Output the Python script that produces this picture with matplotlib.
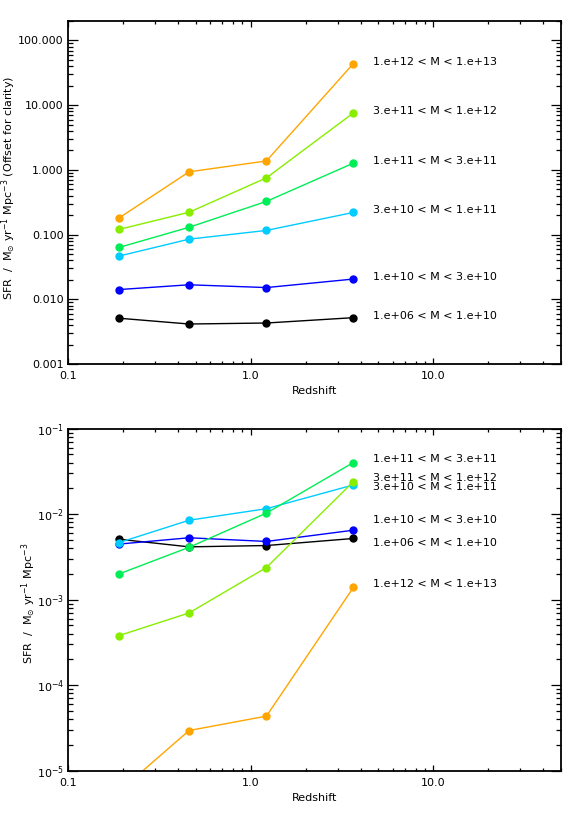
import numpy as np
import matplotlib
matplotlib.use("Agg")
import matplotlib.pyplot as plt
from matplotlib.ticker import LogLocator, FuncFormatter, NullFormatter

plt.rcParams['font.family'] = ['DejaVu Sans']
plt.rcParams['mathtext.fontset'] = 'dejavusans'

# ---- data ----
redshift = [0.19, 0.46, 1.22, 3.65]

bin_labels = ["1.e+06 < M < 1.e+10",
              "1.e+10 < M < 3.e+10",
              "3.e+10 < M < 1.e+11",
              "1.e+11 < M < 3.e+11",
              "3.e+11 < M < 1.e+12",
              "1.e+12 < M < 1.e+13"]
bin_colors = ["#000000", "#0000FF", "#00CCFF", "#00EE55", "#88EE00", "#FFA500"]

sfr_m06_10 = [0.0051, 0.00415, 0.0043, 0.0052]
sfr_10_3e10 = [0.00447, 0.0053, 0.0048, 0.0065]
sfr_3e10_11 = [0.00465, 0.0085, 0.0116, 0.022]
sfr_11_3e11 = [0.0020, 0.0041, 0.0103, 0.0402]
sfr_3e11_12 = [0.00038, 0.0007, 0.00238, 0.0240]
sfr_12_13 = [5.7e-6, 2.95e-5, 4.35e-5, 0.00139]
sfr_bins = [sfr_m06_10, sfr_10_3e10, sfr_3e10_11, sfr_11_3e11, sfr_3e11_12, sfr_12_13]

# display offsets (top panel), as powers of ten
offset_exp = [0.0, 0.5, 1.0, 1.5, 2.5, 4.5]

# label y positions in the bottom panel
bottom_label_y = [0.00457, 0.00855, 0.0207, 0.0443, 0.0263, 0.00153]

# ---- figure ----
fig = plt.figure(figsize=(5.81, 8.14), dpi=100)
W, H = 581.0, 814.0
def axrect(l, t, r, b):
    return [l / W, 1 - b / H, (r - l) / W, (b - t) / H]

ax1 = fig.add_axes(axrect(68, 21, 561, 364))
ax2 = fig.add_axes(axrect(68, 428.7, 561, 770.7))

FS = 8

def style(ax):
    ax.set_xscale('log')
    ax.set_yscale('log')
    ax.set_xlim(0.1, 50)
    ax.xaxis.set_major_locator(LogLocator(base=10, numticks=10))
    ax.xaxis.set_minor_locator(LogLocator(base=10, subs=np.arange(2, 10), numticks=20))
    ax.xaxis.set_major_formatter(FuncFormatter(lambda v, p: f"{v:.1f}"))
    ax.xaxis.set_minor_formatter(NullFormatter())
    ax.yaxis.set_minor_locator(LogLocator(base=10, subs=np.arange(2, 10), numticks=20))
    ax.yaxis.set_minor_formatter(NullFormatter())
    ax.tick_params(axis='both', which='both', direction='in', top=True, right=True,
                   labelsize=FS, width=0.9, color='black')
    ax.tick_params(axis='x', which='major', length=4.5, pad=5)
    ax.tick_params(axis='x', which='minor', length=2.3)
    ax.tick_params(axis='y', which='major', length=7, pad=3)
    ax.tick_params(axis='y', which='minor', length=3.5)
    for s in ax.spines.values():
        s.set_linewidth(1.3)
    ax.set_xlabel("Redshift", fontsize=FS, labelpad=4)

style(ax1)
style(ax2)

ax1.set_ylim(0.001, 200)
ax1.yaxis.set_major_locator(LogLocator(base=10, numticks=10))
ax1.yaxis.set_major_formatter(FuncFormatter(lambda v, p: f"{v:.3f}"))

ax2.set_ylim(1e-5, 1e-1)
ax2.yaxis.set_major_locator(LogLocator(base=10, numticks=10))

for vals, oe, col, lab, ly in zip(sfr_bins, offset_exp, bin_colors, bin_labels, bottom_label_y):
    vals = np.array(vals)
    top_vals = vals * 10 ** oe
    ax1.plot(redshift, top_vals, '-o', color=col, lw=1.0, ms=5.0)
    ax1.annotate(lab, xy=(redshift[-1], top_vals[-1]), xytext=(20, 2),
                 textcoords='offset pixels', va='center', ha='left', fontsize=FS)
    ax2.plot(redshift, vals, '-o', color=col, lw=1.0, ms=5.0)
    ax2.annotate(lab, xy=(redshift[-1], ly), xytext=(20, 0),
                 textcoords='offset pixels', va='center', ha='left', fontsize=FS)

ax1.set_ylabel(r"SFR  /  M$_{\odot}$ yr$^{-1}$ Mpc$^{-3}$ (Offset for clarity)", fontsize=FS)
ax1.yaxis.set_label_coords(-0.101, 0.515)
ax2.set_ylabel(r"SFR  /  M$_{\odot}$ yr$^{-1}$ Mpc$^{-3}$", fontsize=FS)
ax2.yaxis.set_label_coords(-0.06, 0.49)

fig.savefig("out.png", dpi=100)
